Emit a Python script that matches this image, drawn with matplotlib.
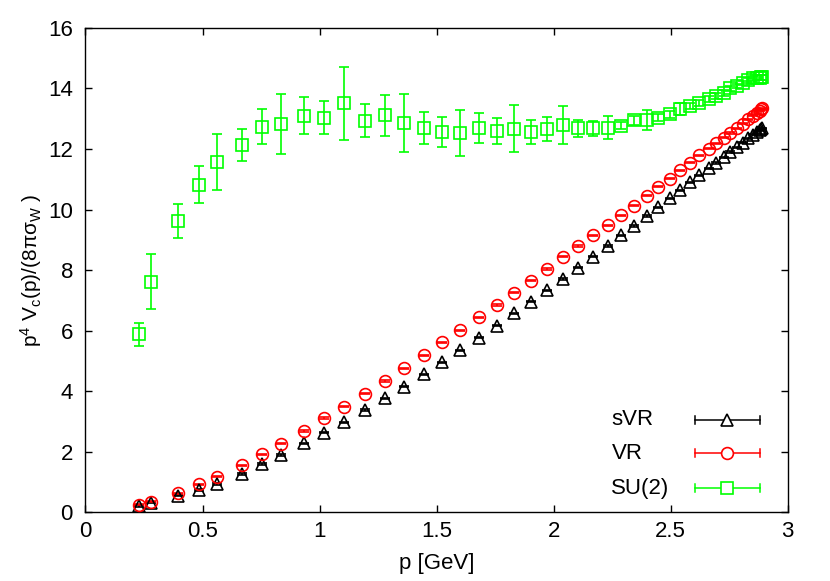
import matplotlib
matplotlib.use("Agg")
import matplotlib.pyplot as plt

plt.rcParams['font.family'] = ['Liberation Sans', 'DejaVu Sans']
plt.rcParams['mathtext.fontset'] = 'custom'
plt.rcParams['mathtext.rm'] = 'Liberation Sans'
plt.rcParams['mathtext.it'] = 'Liberation Sans:italic'

p = [0.230, 0.280, 0.397, 0.486, 0.562, 0.668, 0.756, 0.837, 0.932, 1.021,
     1.103, 1.194, 1.280, 1.359, 1.445, 1.525, 1.602, 1.682, 1.758, 1.830,
     1.903, 1.972, 2.039, 2.106, 2.168, 2.231, 2.287, 2.342, 2.398, 2.447,
     2.497, 2.541, 2.583, 2.623, 2.662, 2.693, 2.726, 2.754, 2.783, 2.809,
     2.832, 2.854, 2.869, 2.880, 2.887, 2.891]

svr = [0.21, 0.32, 0.55, 0.74, 0.94, 1.27, 1.60, 1.90, 2.28, 2.63,
       2.98, 3.38, 3.77, 4.15, 4.56, 4.96, 5.36, 5.77, 6.17, 6.57,
       6.96, 7.34, 7.71, 8.08, 8.44, 8.80, 9.15, 9.46, 9.79, 10.07,
       10.37, 10.64, 10.90, 11.13, 11.36, 11.54, 11.73, 11.90, 12.06, 12.21,
       12.35, 12.47, 12.56, 12.62, 12.66, 12.69]

vr = [0.25, 0.35, 0.63, 0.93, 1.18, 1.56, 1.92, 2.27, 2.69, 3.12,
      3.49, 3.92, 4.34, 4.76, 5.19, 5.62, 6.02, 6.44, 6.85, 7.25,
      7.65, 8.04, 8.44, 8.80, 9.15, 9.48, 9.81, 10.13, 10.46, 10.75,
      11.02, 11.30, 11.55, 11.79, 12.01, 12.19, 12.38, 12.53, 12.69, 12.84,
      12.98, 13.10, 13.19, 13.26, 13.31, 13.34]

su2 = [5.88, 7.62, 9.61, 10.82, 11.56, 12.14, 12.73, 12.82, 13.10, 13.04,
       13.51, 12.94, 13.11, 12.86, 12.70, 12.57, 12.53, 12.70, 12.59, 12.67,
       12.55, 12.67, 12.78, 12.68, 12.68, 12.70, 12.77, 12.95, 12.95, 13.03,
       13.15, 13.32, 13.43, 13.52, 13.64, 13.75, 13.85, 14.00, 14.08, 14.18,
       14.27, 14.33, 14.35, 14.36, 14.37, 14.37]

su2_err = [0.38, 0.91, 0.56, 0.61, 0.92, 0.53, 0.58, 1.00, 0.62, 0.55,
           1.21, 0.55, 0.68, 0.95, 0.53, 0.50, 0.75, 0.50, 0.43, 0.77,
           0.40, 0.39, 0.63, 0.29, 0.26, 0.38, 0.12, 0.15, 0.33, 0.12,
           0.12, 0.20, 0.10, 0.10, 0.10, 0.10, 0.10, 0.08, 0.08, 0.08,
           0.08, 0.08, 0.08, 0.08, 0.08, 0.08]

svr_err = [0.02] * len(p)
vr_err = [0.02] * len(p)

labels = ["sVR", "VR", "SU(2)"]
colors = ["black", "#ff0000", "#00ff00"]
markers = ["^", "o", "s"]

FS = 16

fig = plt.figure(figsize=(8.30, 5.81), dpi=100)
ax = fig.add_axes([0.103, 0.118, 0.846, 0.834])

series = [(svr, svr_err), (vr, vr_err), (su2, su2_err)]
for (vals, errs), c, m in zip(series, colors, markers):
    ax.errorbar(p, vals, yerr=errs, fmt=m, color=c, mfc='none', mec=c,
                ms=8.5, mew=1.2, elinewidth=1.2, capsize=3.3, capthick=1.2,
                ecolor=c, zorder=3)

ax.set_xlim(0, 3)
ax.set_ylim(0, 16)
ax.set_xticks([0, 0.5, 1, 1.5, 2, 2.5, 3])
ax.set_xticklabels(["0", "0.5", "1", "1.5", "2", "2.5", "3"])
ax.set_yticks(range(0, 17, 2))
ax.tick_params(direction='in', length=5, width=1, top=True, right=True,
               labelsize=FS)
ax.tick_params(axis='y', pad=9)
ax.tick_params(axis='x', pad=6)
for s in ax.spines.values():
    s.set_linewidth(1)

ax.set_xlabel("p [GeV]", fontsize=FS, labelpad=8)
ax.set_ylabel(r"p$^{4}$ V$_{\rm c}$(p)/(8πσ$_{\rm W}$ )", fontsize=15, labelpad=3)

# legend (gnuplot style)
leg_y = [0.191, 0.122, 0.050]
for ly, lab, c, m in zip(leg_y, labels, colors, markers):
    ax.text(0.749, ly, lab, transform=ax.transAxes, fontsize=FS,
            va='center', ha='left')
    ax.plot([0.868, 0.961], [ly, ly], color=c, lw=1.1, transform=ax.transAxes)
    ax.plot([0.868, 0.868], [ly - 0.008, ly + 0.008], color=c, lw=1.1, transform=ax.transAxes)
    ax.plot([0.961, 0.961], [ly - 0.008, ly + 0.008], color=c, lw=1.1, transform=ax.transAxes)
    ax.plot([0.914], [ly], marker=m, ms=8.5, mfc='white', mec=c, mew=1.2,
            transform=ax.transAxes, linestyle='none')

fig.savefig("out.png", dpi=100)
